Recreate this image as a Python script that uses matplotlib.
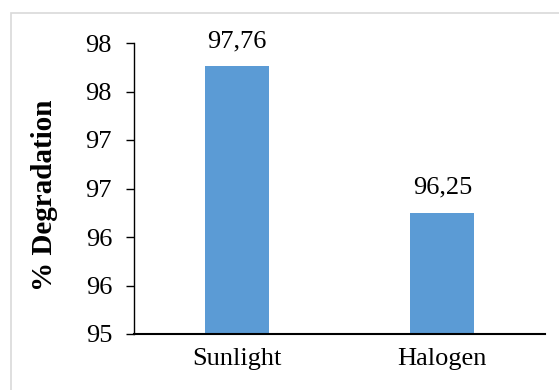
import math
import matplotlib.pyplot as plt
from matplotlib.patches import Rectangle
from matplotlib.ticker import FuncFormatter

categories = ['Sunlight', 'Halogen']
degradation = [97.76, 96.25]
value_labels = ['97,76', '96,25']

plt.rcParams['font.family'] = ['Liberation Serif', 'DejaVu Serif']

fig = plt.figure(figsize=(5.59, 3.90), dpi=100)
ax = fig.add_axes([134 / 559, 56 / 390, 411 / 559, 291 / 390])

# chart area frame (runs off the right and bottom edges)
fig.patches.append(Rectangle((11 / 559, -0.05), 1.1, (390 - 13) / 390 + 0.05,
                             transform=fig.transFigure, fill=False,
                             edgecolor='#d9d9d9', linewidth=1.2))

x = range(len(categories))
bars = ax.bar(x, degradation, width=0.31, color='#5b9bd5', bottom=0)
ax.set_ylim(95, 98)
ax.set_xlim(-0.5, 1.5)
ax.set_xticks(list(x))
ax.set_xticklabels(categories, fontsize=19)

ax.set_yticks([95, 95.5, 96, 96.5, 97, 97.5, 98])
# whole-number labels, halves rounded up
ax.yaxis.set_major_formatter(FuncFormatter(lambda v, p: f'{int(math.floor(v + 0.5))}'))
ax.tick_params(axis='y', labelsize=19, length=5.8, width=1, pad=10)
ax.tick_params(axis='x', length=0, pad=10)

for b, lab in zip(bars, value_labels):
    ax.annotate(lab, (b.get_x() + b.get_width() / 2, b.get_height()),
                xytext=(0, 10), textcoords='offset points',
                ha='center', va='bottom', fontsize=19)

ax.set_ylabel('% Degradation', fontsize=21, fontweight='bold')
ax.yaxis.set_label_coords(45 / 559, 0.5, transform=fig.transFigure)
ax.yaxis.label.set_verticalalignment('center')

for s in ['top', 'right']:
    ax.spines[s].set_visible(False)
ax.spines['left'].set_linewidth(1)
ax.spines['bottom'].set_linewidth(1.5)

fig.savefig('out.png', dpi=100)
